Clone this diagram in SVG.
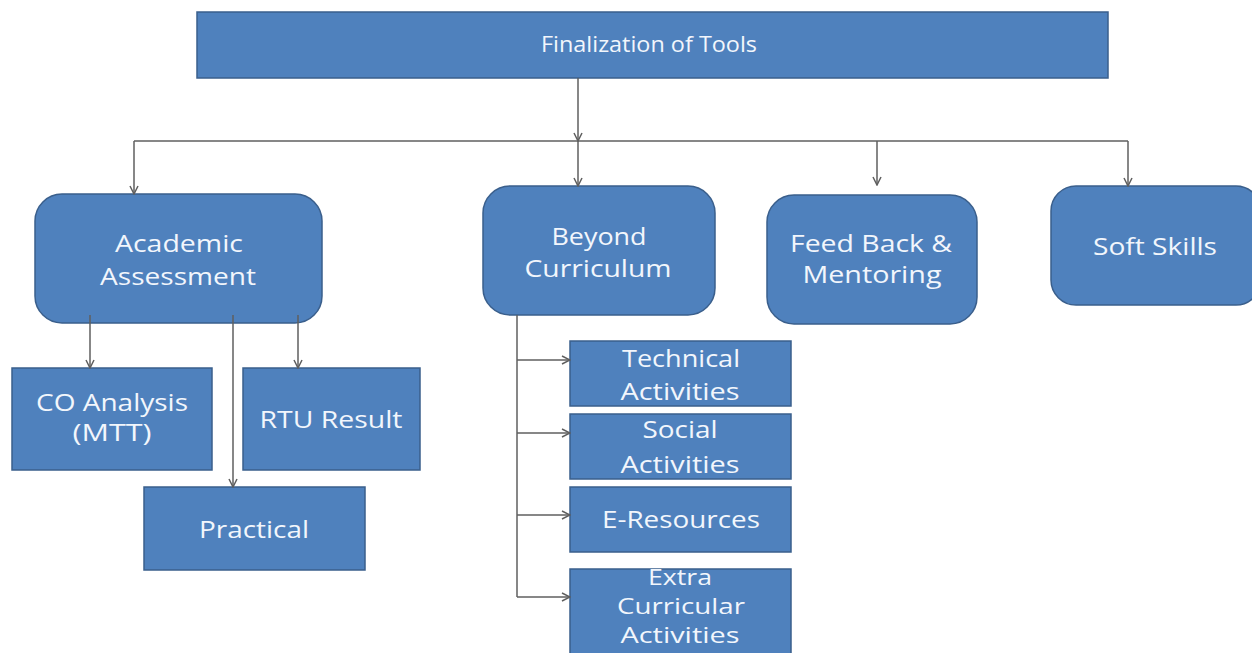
<svg xmlns="http://www.w3.org/2000/svg" width="1252" height="653" viewBox="0 0 1252 653">
<style>
.box{fill:#4F81BD;stroke:#3A5F8C;stroke-width:1.5}
.t{font-family:"Open Sans","Liberation Sans",sans-serif;font-size:24px;fill:#F2F6FC;text-anchor:middle}
.s{font-size:21px}
.c{fill:none;stroke:#5f5f5f;stroke-width:1.5}
</style>
<defs>
<marker id="a" viewBox="0 0 10 10" refX="9" refY="5" markerWidth="10" markerHeight="10" markerUnits="userSpaceOnUse" orient="auto">
<path d="M1,1 L9,5 L1,9" fill="none" stroke="#5f5f5f" stroke-width="1.5"/>
</marker>
</defs>
<rect width="1252" height="653" fill="#FFFFFF"/>
<g id="finalization">
<rect class="box" x="197" y="12" width="911" height="66"/>
<text class="t" x="649" y="52" style="font-size:22px" textLength="216" lengthAdjust="spacingAndGlyphs">Finalization of Tools</text>
</g>
<g id="academic">
<rect class="box" x="35" y="194" width="287" height="129" rx="27"/>
<text class="t" x="179" y="252" textLength="128" lengthAdjust="spacingAndGlyphs">Academic</text>
<text class="t" x="178" y="285" textLength="156" lengthAdjust="spacingAndGlyphs">Assessment</text>
</g>
<g id="beyond">
<rect class="box" x="483" y="186" width="232" height="129" rx="27"/>
<text class="t" x="599" y="245" textLength="95" lengthAdjust="spacingAndGlyphs">Beyond</text>
<text class="t" x="598" y="277" textLength="147" lengthAdjust="spacingAndGlyphs">Curriculum</text>
</g>
<g id="feedback">
<rect class="box" x="767" y="195" width="210" height="129" rx="27"/>
<text class="t" x="871" y="252" textLength="162" lengthAdjust="spacingAndGlyphs">Feed Back &amp;</text>
<text class="t" x="872" y="283" textLength="139" lengthAdjust="spacingAndGlyphs">Mentoring</text>
</g>
<g id="softskills">
<rect class="box" x="1051" y="186" width="210" height="119" rx="25"/>
<text class="t" x="1155" y="255" textLength="124" lengthAdjust="spacingAndGlyphs">Soft Skills</text>
</g>
<g id="co">
<rect class="box" x="12" y="368" width="200" height="102"/>
<text class="t" x="112" y="411" textLength="152" lengthAdjust="spacingAndGlyphs">CO Analysis</text>
<text class="t" x="112" y="441" textLength="79" lengthAdjust="spacingAndGlyphs">(MTT)</text>
</g>
<g id="rtu">
<rect class="box" x="243" y="368" width="177" height="102"/>
<text class="t" x="331" y="428" textLength="143" lengthAdjust="spacingAndGlyphs">RTU Result</text>
</g>
<g id="practical">
<rect class="box" x="144" y="487" width="221" height="83"/>
<text class="t" x="254" y="538" textLength="110" lengthAdjust="spacingAndGlyphs">Practical</text>
</g>
<g id="technical">
<rect class="box" x="570" y="341" width="221" height="65"/>
<text class="t" x="681" y="367" textLength="118" lengthAdjust="spacingAndGlyphs">Technical</text>
<text class="t" x="680" y="400" textLength="119" lengthAdjust="spacingAndGlyphs">Activities</text>
</g>
<g id="social">
<rect class="box" x="570" y="414" width="221" height="65"/>
<text class="t" x="680" y="438" textLength="75" lengthAdjust="spacingAndGlyphs">Social</text>
<text class="t" x="680" y="473" textLength="119" lengthAdjust="spacingAndGlyphs">Activities</text>
</g>
<g id="eresources">
<rect class="box" x="570" y="487" width="221" height="65"/>
<text class="t" x="681" y="528" textLength="158" lengthAdjust="spacingAndGlyphs">E-Resources</text>
</g>
<g id="extra">
<rect class="box" x="570" y="569" width="221" height="90"/>
<text class="t s" x="680" y="585" textLength="64" lengthAdjust="spacingAndGlyphs">Extra</text>
<text class="t s" x="681" y="614" textLength="128" lengthAdjust="spacingAndGlyphs">Curricular</text>
<text class="t s" x="680" y="643" textLength="119" lengthAdjust="spacingAndGlyphs">Activities</text>
</g>
<g id="connectors">
<path class="c" d="M578,78 V141" marker-end="url(#a)"/>
<path class="c" d="M578,141 V186" marker-end="url(#a)"/>
<path class="c" d="M134,141 H1128"/>
<path class="c" d="M134,141 V194" marker-end="url(#a)"/>
<path class="c" d="M877,141 V185" marker-end="url(#a)"/>
<path class="c" d="M1128,141 V186" marker-end="url(#a)"/>
<path class="c" d="M90,315 V368" marker-end="url(#a)"/>
<path class="c" d="M298,315 V368" marker-end="url(#a)"/>
<path class="c" d="M233,315 V487" marker-end="url(#a)"/>
<path class="c" d="M517,315 V597"/>
<path class="c" d="M517,360 H570" marker-end="url(#a)"/>
<path class="c" d="M517,433 H570" marker-end="url(#a)"/>
<path class="c" d="M517,515 H570" marker-end="url(#a)"/>
<path class="c" d="M517,597 H570" marker-end="url(#a)"/>
</g>
</svg>
